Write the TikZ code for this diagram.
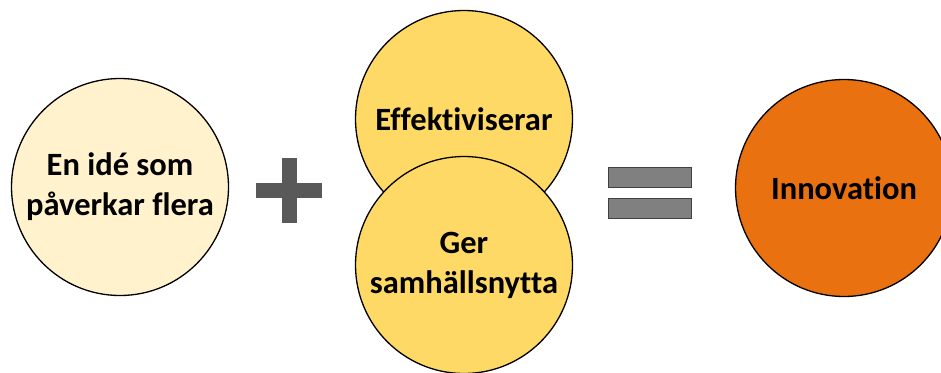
\documentclass[tikz,border=0pt]{standalone}
\usepackage{fontspec}
\setmainfont[Ligatures=NoCommon]{Carlito}
\definecolor{cream}{HTML}{FFF2CC}
\definecolor{gold}{HTML}{FFD966}
\definecolor{orange}{HTML}{E9710F}
\definecolor{plusgray}{HTML}{595959}
\definecolor{eqgray}{HTML}{808080}
\tikzset{
	ball/.style={circle,draw=black,line width=1.3pt,minimum size=217pt,inner sep=0pt,align=center,font=\fontsize{32.5}{40}\selectfont\bfseries},
	bar/.style={rectangle,inner sep=0pt,fill=plusgray},
	eqbar/.style={rectangle,inner sep=0pt,fill=eqgray,draw=black!75,line width=0.6pt,minimum width=83pt,minimum height=20pt}
}
\begin{document}
\begin{tikzpicture}[x=1pt,y=-1pt]
		\useasboundingbox (0,0) rectangle (941,372);
		\node[ball,fill=cream] (idea) at (120,187) {En idé som\\påverkar flera};
		\node[bar,minimum width=66pt,minimum height=15pt] (plush) at (289,190.5) {};
		\node[bar,minimum width=15pt,minimum height=65pt] (plusv) at (289.5,190.5) {};
		\node[ball,fill=gold] (eff) at (464,119) {Effektiviserar};
		\node[ball,fill=gold] (nytta) at (464,265) {Ger\\samhällsnytta};
		\node[eqbar] (eqtop) at (649.5,177.5) {};
		\node[eqbar] (eqbot) at (649.5,208) {};
		\node[ball,fill=orange] (innov) at (844,188) {Innovation};
	\end{tikzpicture}
\end{document}
